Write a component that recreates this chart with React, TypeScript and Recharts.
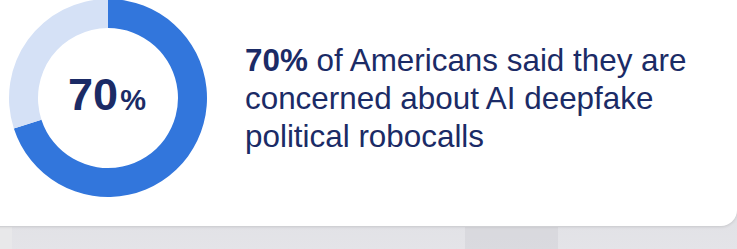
import React from 'react';
import { PieChart, Pie, Cell, Label } from 'recharts';

const shareNames = ['Concerned', 'Not concerned'];
const shareValues = [70, 30];
const shareColors = ['#3276dc', '#d5e1f6'];
const headline = '70%';
const statementLines = ['of Americans said they are', 'concerned about AI deepfake', 'political robocalls'];

const pieData = shareNames.map((name, i) => ({ name, value: shareValues[i] }));

const NAVY = '#1b2b66';
const FONT = '"Liberation Sans", Arial, Helvetica, sans-serif';

function CenterLabel(props: any) {
  const { viewBox } = props;
  const cx = viewBox?.cx ?? 108;
  const cy = viewBox?.cy ?? 98;
  return (
    <text x={cx - 1} y={cy + 12} textAnchor="middle" fill={NAVY} fontFamily={FONT}>
      <tspan fontSize={45} fontWeight={700}>{headline.replace('%', '')}</tspan>
      <tspan fontSize={29} fontWeight={600} dx={2}>%</tspan>
    </text>
  );
}

export default function App() {
  return (
    <div
      style={{
        position: 'absolute',
        left: 0,
        top: 0,
        width: 737,
        height: 249,
        overflow: 'hidden',
        background: 'linear-gradient(180deg, #c8c9ce 0%, #d9dadf 50%, #e4e4e8 100%)',
        fontFamily: FONT,
      }}
    >
      <div style={{ position: 'absolute', left: 0, top: 227, width: 12, height: 22, background: '#e8e8ea' }} />
      <div style={{ position: 'absolute', left: 465, top: 227, width: 93, height: 22, background: 'rgba(140,140,145,0.1)' }} />
      <div
        style={{
          position: 'absolute',
          left: -20,
          top: -20,
          width: 757,
          height: 246,
          background: '#ffffff',
          borderBottomRightRadius: 16,
          boxShadow: '0 1px 3px rgba(0,0,0,0.12)',
        }}
      />
      <div style={{ position: 'absolute', left: 0, top: 0 }}>
        <PieChart width={737} height={226} margin={{ top: 0, right: 0, bottom: 0, left: 0 }}>
          <Pie
            data={pieData}
            dataKey="value"
            nameKey="name"
            cx={108}
            cy={98}
            innerRadius={70}
            outerRadius={99}
            startAngle={90}
            endAngle={-270}
            stroke="none"
            isAnimationActive={false}
          >
            {pieData.map((d, i) => (
              <Cell key={d.name} fill={shareColors[i]} />
            ))}
            <Label position="center" content={<CenterLabel />} />
          </Pie>
        </PieChart>
      </div>
      <div
        style={{
          position: 'absolute',
          left: 245,
          top: 42,
          fontSize: 31.4,
          lineHeight: '38px',
          color: NAVY,
          whiteSpace: 'nowrap',
        }}
      >
        <div>
          <span style={{ fontWeight: 700 }}>{headline}</span> {statementLines[0]}
        </div>
        <div>{statementLines[1]}</div>
        <div>{statementLines[2]}</div>
      </div>
    </div>
  );
}
